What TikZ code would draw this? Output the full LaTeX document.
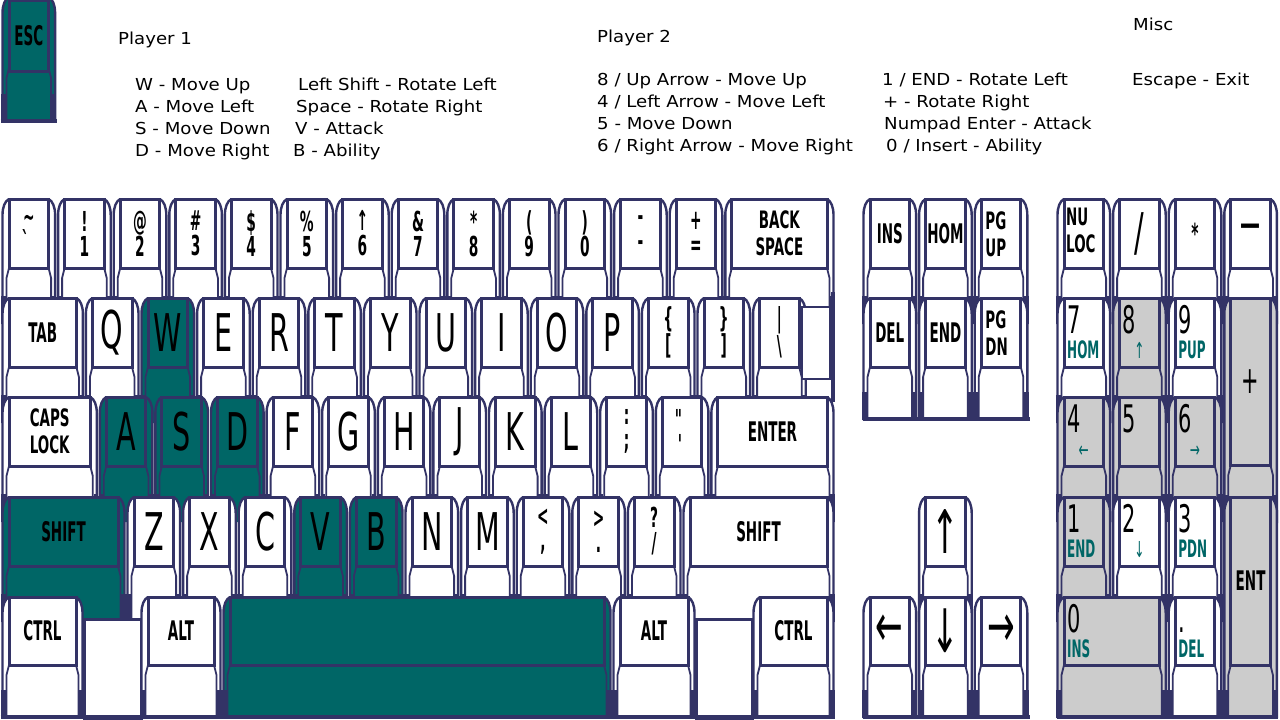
\documentclass[tikz,border=0pt]{standalone}
\usepackage{fontspec}
\setmainfont{DejaVu Sans}[FakeStretch=1.1]
\newfontfamily\KF{DejaVu Sans}[FakeStretch=0.55]
\newfontfamily\KB{DejaVu Sans}[FakeStretch=0.5]
\newfontfamily\KC{DejaVu Sans}[FakeStretch=0.56]
\definecolor{kbnavy}{RGB}{51,51,102}
\definecolor{kbteal}{RGB}{0,102,102}
\definecolor{kbgray}{RGB}{204,204,204}
\newcommand\kLet{\KF\fontsize{52}{52}\selectfont}
\newcommand\kNum{\KB\bfseries\fontsize{27.5}{25}\selectfont}
\newcommand\kWord{\KB\bfseries\fontsize{27}{24}\selectfont}
\newcommand\kTwo{\KC\bfseries\fontsize{24}{27}\selectfont}
\newcommand\kDig{\KF\fontsize{38}{38}\selectfont}
\newcommand\kSub{\KB\bfseries\fontsize{24}{24}\selectfont}
\newcommand\kSubA{\KF\fontsize{22}{22}\selectfont}
\newcommand\kArr{\KF\fontsize{60}{60}\selectfont}
% #1 node options, #2 name, #3 L, #4 T, #5 W, #6 body H, #7 cap H, #8 fill, #9 label
\newcommand\kk[9][]{%
 \fill[#8] ({#3+8},{#4}) .. controls ({#3+4},{#4+2}) and ({#3+1.5},{#4+8}) .. ({#3+1.5},{#4+16}) -- ({#3+1.5},{#4+#6}) -- ({#3+#5-1.5},{#4+#6}) -- ({#3+#5-1.5},{#4+16}) .. controls ({#3+#5-1.5},{#4+8}) and ({#3+#5-4},{#4+2}) .. ({#3+#5-8},{#4}) -- cycle;
 \draw[kline] ({#3+1.5},{#4+#6}) -- ({#3+1.5},{#4+16}) .. controls ({#3+1.5},{#4+8}) and ({#3+4},{#4+2}) .. ({#3+8},{#4});
 \draw[kline] ({#3+#5-1.5},{#4+#6}) -- ({#3+#5-1.5},{#4+16}) .. controls ({#3+#5-1.5},{#4+8}) and ({#3+#5-4},{#4+2}) .. ({#3+#5-8},{#4});
 \draw[sline] ({#3+8},{#4+#7}) -- ({#3+5.5},{#4+#7+10}) -- ({#3+5.5},{#4+#6});
 \draw[sline] ({#3+#5-8},{#4+#7}) -- ({#3+#5-5.5},{#4+#7+10}) -- ({#3+#5-5.5},{#4+#6});
 \ifdim #6pt>110pt
  \draw[bline] ({#3+2.5},{#4+#6-28}) -- ({#3+2.5},{#4+#6});
  \draw[bline] ({#3+#5-2.5},{#4+#6-28}) -- ({#3+#5-2.5},{#4+#6});
 \fi
 \node[keycap, fill=#8, minimum width={(#5-16)*1pt}, minimum height={#7*1pt}, #1] (#2) at ({#3+#5/2},{#4+#7/2}) {#9};
}
\newcommand\numlab[3]{%
 \node[font=\kDig, anchor=base west, inner sep=0pt] (#1d) at ([xshift=3pt,yshift=-35pt]#1.north west) {#2};
 \node[font=\kSub, text=kbteal, anchor=base west, inner sep=0pt] (#1s) at ([xshift=3pt,yshift=-60pt]#1.north west) {#3};}
\newcommand\numarr[3]{%
 \node[font=\kDig, anchor=base west, inner sep=0pt] (#1d) at ([xshift=3pt,yshift=-35pt]#1.north west) {#2};
 \node[font=\kSubA, text=kbteal, anchor=base, inner sep=0pt] (#1s) at ([yshift=-60pt]#1.north) {#3};}
\begin{document}
\begin{tikzpicture}[x=1pt,y=-1pt,
  kline/.style={draw=kbnavy, line width=2.4pt},
  sline/.style={draw=kbnavy, line width=1.8pt},
  bline/.style={draw=kbnavy, line width=4.5pt},
  botline/.style={draw=kbnavy, line width=3.5pt},
  gapbox/.style={draw=kbnavy, fill=white, line width=3pt},
  keycap/.style={draw=kbnavy, line width=3pt, inner sep=0pt, outer sep=0pt, align=center, text=black, font=\kLet},
  txt/.style={anchor=base west, inner sep=0pt, font=\fontsize{16.5}{20}\selectfont}]
\useasboundingbox (0,0) rectangle (1280,720);
\fill[white] (0,0) rectangle (1280,720);
% ESC
\kk[font=\kWord, text depth=0pt, yshift=-3pt]{esc}{1}{-3}{55.6}{125}{71}{kbteal}{ESC}
\draw[botline] (0.5,121) -- (57,121);
% texts
\node[txt] (t1) at (118,44) {Player 1};
\node[txt] (t2) at (135,90) {W - Move Up};
\node[txt] (t3) at (135,112) {A - Move Left};
\node[txt] (t4) at (135,134) {S - Move Down};
\node[txt] (t5) at (135,156) {D - Move Right};
\node[txt] (t6) at (298,90) {Left Shift - Rotate Left};
\node[txt] (t7) at (296,112) {Space - Rotate Right};
\node[txt] (t8) at (295,134) {V - Attack};
\node[txt] (t9) at (293,156) {B - Ability};
\node[txt] (u1) at (597,42) {Player 2};
\node[txt] (u2) at (597,85) {8 / Up Arrow - Move Up};
\node[txt] (u3) at (597,107) {4 / Left Arrow - Move Left};
\node[txt] (u4) at (597,129) {5 - Move Down};
\node[txt] (u5) at (597,151) {6 / Right Arrow - Move Right};
\node[txt] (u6) at (882,85) {1 / END - Rotate Left};
\node[txt] (u7) at (883,107) {+ - Rotate Right};
\node[txt] (u8) at (884,129) {Numpad Enter - Attack};
\node[txt] (u9) at (886,151) {0 / Insert - Ability};
\node[txt] (m1) at (1133,30) {Misc};
\node[txt] (m2) at (1132,85) {Escape - Exit};
% ---------- Row A
\kk[font=\kNum]{ka0}{1}{199}{55.6}{125}{69}{white}{\textasciitilde\\\textasciigrave}
\kk[font=\kNum]{ka1}{56.6}{199}{55.6}{125}{69}{white}{!\\1}
\kk[font=\kNum]{ka2}{112.2}{199}{55.6}{125}{69}{white}{@\\2}
\kk[font=\kNum]{ka3}{167.8}{199}{55.6}{125}{69}{white}{\#\\3}
\kk[font=\kNum]{ka4}{223.4}{199}{55.6}{125}{69}{white}{\$\\4}
\kk[font=\kNum]{ka5}{279}{199}{55.6}{125}{69}{white}{\%\\5}
\kk[font=\kNum]{ka6}{334.6}{199}{55.6}{125}{69}{white}{↑\\6}
\kk[font=\kNum]{ka7}{390.2}{199}{55.6}{125}{69}{white}{\&\\7}
\kk[font=\kNum]{ka8}{445.8}{199}{55.6}{125}{69}{white}{*\\8}
\kk[font=\kNum]{ka9}{501.4}{199}{55.6}{125}{69}{white}{(\\9}
\kk[font=\kNum]{ka10}{557}{199}{55.6}{125}{69}{white}{)\\0}
\kk[font=\kNum]{ka11}{612.6}{199}{55.6}{125}{69}{white}{-\\-}
\kk[font=\kNum]{ka12}{668.2}{199}{55.6}{125}{69}{white}{+\\=}
\kk[font=\kTwo]{kbs}{723.8}{199}{111.2}{125}{69}{white}{BACK\\SPACE}
\kk[font=\kWord]{kins}{862}{199}{55.6}{125}{69}{white}{INS}
\kk[font=\kWord]{khom}{917.6}{199}{55.6}{125}{69}{white}{HOM}
\kk{kpgu}{973.2}{199}{55.6}{125}{69}{white}{}
\node[font=\kTwo, align=left, anchor=north west, inner sep=0pt] (lpgu) at ([xshift=4pt,yshift=-12pt]kpgu.north west) {PG\\UP};
\kk{knl}{1056}{199}{55.6}{125}{69}{white}{}
\node[font=\kTwo, align=left, anchor=north west, inner sep=0pt] (lnl) at ([xshift=2pt,yshift=-9pt]knl.north west) {NU\\LOC};
\kk{kdiv}{1111.6}{199}{55.6}{125}{69}{white}{/}
\kk[font=\kNum]{kmul}{1167.2}{199}{55.6}{125}{69}{white}{*}
\kk{ksub}{1222.8}{199}{55.6}{125}{69}{white}{−}
% ---------- Row B
\kk[font=\kWord]{ktab}{1}{298}{83.4}{125}{69}{white}{TAB}
\kk{kq}{84.4}{298}{55.6}{125}{69}{white}{Q}
\kk{kw}{140}{298}{55.6}{125}{69}{kbteal}{W}
\kk{ke}{195.6}{298}{55.6}{125}{69}{white}{E}
\kk{kr}{251.2}{298}{55.6}{125}{69}{white}{R}
\kk{kt}{306.8}{298}{55.6}{125}{69}{white}{T}
\kk{ky}{362.4}{298}{55.6}{125}{69}{white}{Y}
\kk{ku}{418}{298}{55.6}{125}{69}{white}{U}
\kk{ki}{473.6}{298}{55.6}{125}{69}{white}{I}
\kk{ko}{529.2}{298}{55.6}{125}{69}{white}{O}
\kk{kp}{584.8}{298}{55.6}{125}{69}{white}{P}
\kk[font=\kNum]{klb}{640.4}{298}{55.6}{125}{69}{white}{\{\\{}[}
\kk[font=\kNum]{krb}{696}{298}{55.6}{125}{69}{white}{\}\\{}]}
\kk[font=\kNum]{kbsl}{751.6}{298}{55.6}{125}{69}{white}{\textbar\\\textbackslash}
\node[draw=kbnavy, line width=2.6pt, fill=white, minimum width=28pt, minimum height=72pt, inner sep=0pt] (kent0) at (816,343) {};
\draw[draw=kbnavy, line width=3.5pt] (833,292) -- (833,402);
\kk[font=\kWord]{kdel}{862}{298}{55.6}{122}{69}{white}{DEL}
\kk[font=\kWord]{kend}{917.6}{298}{55.6}{122}{69}{white}{END}
\kk{kpgd}{973.2}{298}{55.6}{122}{69}{white}{}
\node[font=\kTwo, align=left, anchor=north west, inner sep=0pt] (lpgd) at ([xshift=4pt,yshift=-12pt]kpgd.north west) {PG\\DN};
\draw[botline] (862.5,419) -- (1029.8,419);
\kk{kn7}{1056}{298}{55.6}{125}{69}{white}{}
\numlab{kn7}{7}{HOM}
\kk{kn8}{1111.6}{298}{55.6}{125}{69}{kbgray}{}
\numarr{kn8}{8}{↑}
\kk{kn9}{1167.2}{298}{55.6}{125}{69}{white}{}
\numlab{kn9}{9}{PUP}
\kk[font=\kDig]{kadd}{1222.8}{298}{55.6}{225}{167}{kbgray}{+}
% ---------- Row C
\kk[font=\kTwo]{kcaps}{1}{397}{97.3}{125}{69}{white}{CAPS\\LOCK}
\kk{ka}{98.3}{397}{55.6}{125}{69}{kbteal}{A}
\kk{ks}{153.9}{397}{55.6}{125}{69}{kbteal}{S}
\kk{kd}{209.5}{397}{55.6}{125}{69}{kbteal}{D}
\kk{kf}{265.1}{397}{55.6}{125}{69}{white}{F}
\kk{kg}{320.7}{397}{55.6}{125}{69}{white}{G}
\kk{kh}{376.3}{397}{55.6}{125}{69}{white}{H}
\kk{kj}{431.9}{397}{55.6}{125}{69}{white}{J}
\kk{kk}{487.5}{397}{55.6}{125}{69}{white}{K}
\kk{kl}{543.1}{397}{55.6}{125}{69}{white}{L}
\kk[font=\kNum]{ksc}{598.7}{397}{55.6}{125}{69}{white}{:\\;}
\kk[font=\kNum]{kqt}{654.3}{397}{55.6}{125}{69}{white}{\textquotedbl\\\textquotesingle}
\kk[font=\kWord]{kent}{709.9}{397}{125.1}{125}{69}{white}{ENTER}
\kk{kn4}{1056}{397}{55.6}{125}{69}{kbgray}{}
\numarr{kn4}{4}{←}
\kk{kn5}{1111.6}{397}{55.6}{125}{69}{kbgray}{}
\node[font=\kDig, anchor=base west, inner sep=0pt] (kn5d) at ([xshift=3pt,yshift=-35pt]kn5.north west) {5};
\kk{kn6}{1167.2}{397}{55.6}{125}{69}{kbgray}{}
\numarr{kn6}{6}{→}
% ---------- Row D
\kk[font=\kWord]{klsh}{1}{497}{125}{125}{69}{kbteal}{SHIFT}
\kk{kz}{126}{497}{55.6}{125}{69}{white}{Z}
\kk{kx}{181.6}{497}{55.6}{125}{69}{white}{X}
\kk{kc}{237.2}{497}{55.6}{125}{69}{white}{C}
\kk{kv}{292.8}{497}{55.6}{125}{69}{kbteal}{V}
\kk{kb}{348.4}{497}{55.6}{125}{69}{kbteal}{B}
\kk{kn}{404}{497}{55.6}{125}{69}{white}{N}
\kk{km}{459.6}{497}{55.6}{125}{69}{white}{M}
\kk[font=\kNum]{klt}{515.2}{497}{55.6}{125}{69}{white}{<\\,}
\kk[font=\kNum]{kgt}{570.8}{497}{55.6}{125}{69}{white}{>\\.}
\kk[font=\kNum]{kqm}{626.4}{497}{55.6}{125}{69}{white}{?\\/}
\kk[font=\kWord]{krsh}{682}{497}{153}{125}{69}{white}{SHIFT}
\kk[font=\kArr]{kup}{917.6}{497}{55.6}{125}{69}{white}{↑}
\kk{kn1}{1056}{497}{55.6}{125}{69}{kbgray}{}
\numlab{kn1}{1}{END}
\kk{kn2}{1111.6}{497}{55.6}{125}{69}{white}{}
\numarr{kn2}{2}{↓}
\kk{kn3}{1167.2}{497}{55.6}{125}{69}{white}{}
\numlab{kn3}{3}{PDN}
\kk[font=\kWord]{kentn}{1222.8}{497}{55.6}{221}{168}{kbgray}{ENT}
% ---------- Row E
\draw[gapbox] (84,619) rectangle (141,718);
\draw[gapbox] (696,619) rectangle (752,718);
\kk[font=\kWord]{klct}{1}{597}{83}{121}{68}{white}{CTRL}
\kk[font=\kWord]{klal}{140}{597}{82}{121}{68}{white}{ALT}
\kk{kspc}{222}{597}{390}{121}{68}{kbteal}{}
\kk[font=\kWord]{kral}{612}{597}{84}{121}{68}{white}{ALT}
\kk[font=\kWord]{krct}{752}{597}{83}{121}{68}{white}{CTRL}
\kk[font=\kArr]{kleft}{862}{597}{55.6}{121}{68}{white}{←}
\kk[font=\kArr]{kdown}{917.6}{597}{55.6}{121}{68}{white}{↓}
\kk[font=\kArr]{kright}{973.2}{597}{55.6}{121}{68}{white}{→}
\kk{kn0}{1056}{597}{111.2}{121}{68}{kbgray}{}
\numlab{kn0}{0}{INS}
\kk{kdot}{1167.2}{597}{55.6}{121}{68}{white}{}
\numlab{kdot}{.}{DEL}
\draw[botline] (0.5,717) -- (834.5,717);
\draw[botline] (862.5,717) -- (1029.8,717);
\draw[botline] (1056.5,717) -- (1277.9,717);
\end{tikzpicture}
\end{document}
